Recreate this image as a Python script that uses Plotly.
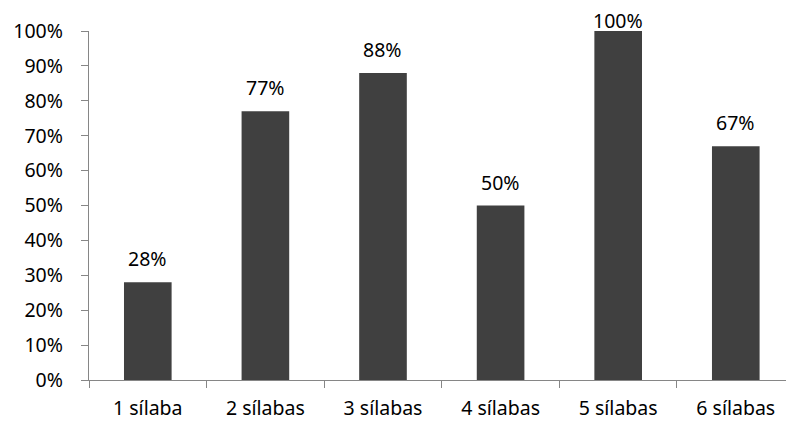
import plotly.graph_objects as go

categories = ["1 sílaba", "2 sílabas", "3 sílabas", "4 sílabas", "5 sílabas", "6 sílabas"]
values = [28, 77, 88, 50, 100, 67]
y_ticks = list(range(0, 101, 10))
y_tick_labels = [f"{v}%" for v in y_ticks]

FONT = "Noto Sans, Open Sans, sans-serif"
FSIZE = 19.5
BAR = "#404040"
AXIS = "#868686"

fig = go.Figure()
fig.add_trace(go.Bar(
    x=categories,
    y=values,
    marker=dict(color=BAR, line=dict(width=0)),
    width=0.405,
    hoverinfo="skip",
))

# value labels sit above each bar; the full-height bar keeps its label inside the plot
for c, v in zip(categories, values):
    fig.add_annotation(
        x=c, y=v, text=f"{v}%", showarrow=False,
        yanchor="bottom", yshift=8 if v < 100 else -5,
        font=dict(family=FONT, size=FSIZE, color="#000000"),
    )

fig.update_layout(
    width=786, height=421,
    margin=dict(l=89, r=0, t=31, b=41),
    paper_bgcolor="white", plot_bgcolor="white",
    showlegend=False,
)
fig.update_xaxes(
    type="category",
    range=[-0.5, 5.427],
    automargin=False,
    showline=True, linecolor=AXIS, linewidth=1.3,
    ticks="outside", tickson="boundaries", ticklen=7, tickcolor=AXIS, tickwidth=1.3,
    showgrid=False, zeroline=False,
    tickfont=dict(family=FONT, size=FSIZE, color="#000000"),
    ticklabelstandoff=10,
)
fig.update_yaxes(
    range=[0, 100],
    automargin=False,
    tickvals=y_ticks, ticktext=y_tick_labels,
    showline=True, linecolor=AXIS, linewidth=1.3,
    ticks="outside", ticklen=7, tickcolor=AXIS, tickwidth=1.3,
    showgrid=False, zeroline=False,
    tickfont=dict(family=FONT, size=FSIZE, color="#000000"),
    ticklabelstandoff=14,
)

fig.write_html("out.html")
